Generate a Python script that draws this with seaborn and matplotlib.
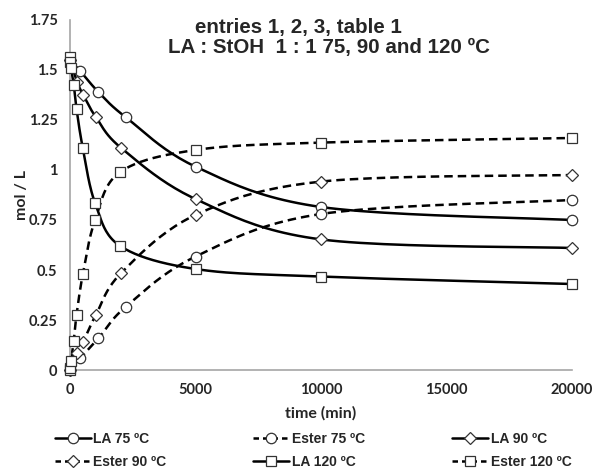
import numpy as np
import matplotlib
matplotlib.use("Agg")
import matplotlib.pyplot as plt
from matplotlib.lines import Line2D
import seaborn as sns

# ---- data ----
t_la75 = [0, 400, 1130, 2230, 5000, 10000, 20000]
la75 = [1.55, 1.496, 1.39, 1.263, 1.017, 0.815, 0.75]
t_es75 = [0, 400, 1130, 2230, 5000, 10000, 20000]
es75 = [0.0, 0.058, 0.158, 0.317, 0.567, 0.78, 0.85]

t_la90 = [0, 280, 530, 1030, 2040, 5000, 10000, 20000]
la90 = [1.55, 1.44, 1.375, 1.265, 1.11, 0.855, 0.653, 0.61]
t_es90 = [0, 280, 530, 1030, 2040, 5000, 10000, 20000]
es90 = [0.0, 0.085, 0.142, 0.275, 0.485, 0.775, 0.942, 0.975]

t_la120 = [0, 15, 40, 150, 260, 510, 1000, 2000, 5000, 10000, 20000]
la120 = [1.565, 1.54, 1.51, 1.425, 1.305, 1.11, 0.835, 0.62, 0.505, 0.467, 0.43]
t_es120 = [0, 15, 40, 150, 260, 510, 1000, 2000, 5000, 10000, 20000]
es120 = [0.0, 0.01, 0.045, 0.147, 0.275, 0.478, 0.75, 0.99, 1.10, 1.137, 1.16]

series_names = ["LA 75 ºC", "Ester 75 ºC", "LA 90 ºC", "Ester 90 ºC", "LA 120 ºC", "Ester 120 ºC"]
y_ticks = [0, 0.25, 0.5, 0.75, 1, 1.25, 1.5, 1.75]
y_ticklabels = ["0", "0.25", "0.5", "0.75", "1", "1.25", "1.5", "1.75"]
x_ticks = [0, 5000, 10000, 15000, 20000]
x_ticklabels = ["0", "5000", "10000", "15000", "20000"]
title1 = "entries 1, 2, 3, table 1"
title2 = "LA : StOH  1 : 1 75, 90 and 120 ºC"

sns.set_theme(style="white")
plt.rcParams['font.family'] = ['Liberation Sans', 'DejaVu Sans']

fig = plt.figure(figsize=(5.95, 4.73), dpi=100)
ax = fig.add_axes([70/595, 1-370/473, 502/595, 350/473])

XMAX, YMAX = 20000, 1.75
SX, SY = 502/XMAX, 350/YMAX


def smooth(x, y, n=24):
    """Excel-style smoothed line (Catmull-Rom Bezier in pixel space)."""
    P = np.column_stack([np.asarray(x, float)*SX, np.asarray(y, float)*SY])
    out = [P[0]]
    m = len(P)
    for i in range(m-1):
        p0 = P[max(i-1, 0)]
        p1 = P[i]
        p2 = P[i+1]
        p3 = P[min(i+2, m-1)]
        c1 = p1 + (p2 - p0)/6
        c2 = p2 - (p3 - p1)/6
        tt = np.linspace(0, 1, n)[1:, None]
        seg = ((1-tt)**3)*p1 + 3*((1-tt)**2)*tt*c1 + 3*(1-tt)*tt**2*c2 + tt**3*p2
        out.extend(seg)
    out = np.array(out)
    return out[:, 0]/SX, out[:, 1]/SY


DASH = (0, (3.4, 2.0))
LEG_DASH = (0, (2.2, 1.6))
specs = [
    (t_la75, la75, "-", "o", 7.5),
    (t_es75, es75, "--", "o", 7.5),
    (t_la90, la90, "-", "D", 6.3),
    (t_es90, es90, "--", "D", 6.3),
    (t_la120, la120, "-", "s", 7),
    (t_es120, es120, "--", "s", 7),
]

handles = []
for (tx, vy, ls, mk, ms), name in zip(specs, series_names):
    sx_, sy_ = smooth(tx, vy)
    sns.lineplot(x=sx_, y=sy_, ax=ax, sort=False, estimator=None, color="black",
                 linewidth=1.8)
    ax.lines[-1].set_linestyle(DASH if ls == "--" else "-")
    ax.plot(tx, vy, linestyle="none", marker=mk, markersize=ms, markerfacecolor="white",
            markeredgecolor="#333333", markeredgewidth=0.9, zorder=5)
    handles.append(Line2D([], [], color="black", linewidth=1.8,
                          linestyle=LEG_DASH if ls == "--" else "-",
                          marker=mk, markersize=ms, markerfacecolor="white",
                          markeredgecolor="#333333", markeredgewidth=0.9, label=name))

ax.set_xlim(0, XMAX)
ax.set_ylim(0, YMAX)
ax.set_xticks(x_ticks)
ax.set_xticklabels(x_ticklabels, fontsize=10.5, fontweight="bold", family=["Lato", "DejaVu Sans"])
ax.set_yticks(y_ticks)
ax.set_yticklabels(y_ticklabels, fontsize=10.5, fontweight="bold", family=["Lato", "DejaVu Sans"])
ax.tick_params(axis="both", length=0, pad=9)
for s in ["top", "right"]:
    ax.spines[s].set_visible(False)
for s in ["left", "bottom"]:
    ax.spines[s].set_color("#A6A6A6")
    ax.spines[s].set_linewidth(1.2)
for ln in ax.lines:
    ln.set_clip_on(False)

ax.set_xlabel("time (min)", fontsize=11.5, fontweight="bold", family=["Lato", "DejaVu Sans"], labelpad=7)
ax.set_ylabel("mol / L", fontsize=11.5, fontweight="bold", family=["Lato", "DejaVu Sans"], labelpad=0)

fig.text(298/595, 1-28/473, title1, ha="center", va="center", fontsize=14.8, fontweight="bold")
fig.text(168/595, 1-48/473, title2, ha="left", va="center", fontsize=14.8, fontweight="bold")

# legend filled row-major like the reference (matplotlib fills column-major)
order = [0, 3, 1, 4, 2, 5]
fig.legend(handles=[handles[i] for i in order], ncol=3, loc="upper left",
           bbox_to_anchor=(49/595, 1-426/473, 528/595, 0.0), mode="expand",
           frameon=False, prop={"weight": "bold", "size": 10},
           handlelength=2.6, handletextpad=0.2, labelspacing=0.7, borderaxespad=0)

fig.savefig("out.png", dpi=100)
